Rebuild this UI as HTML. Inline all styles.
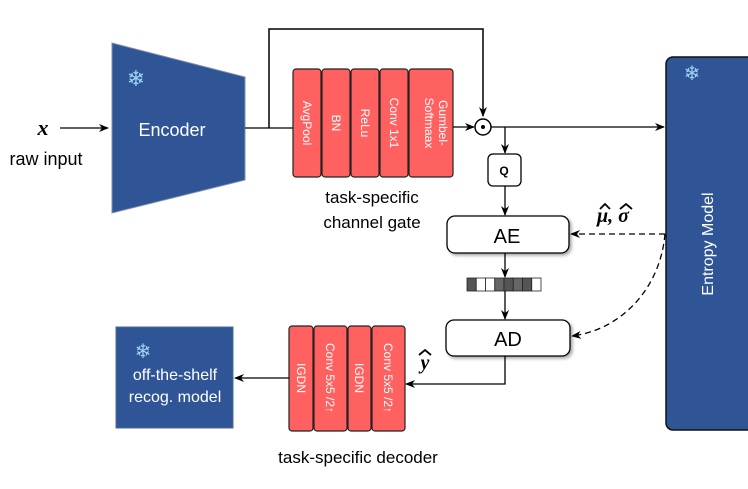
<!DOCTYPE html>
<html><head><style>
body{margin:0;background:#fff;}
svg text{font-family:"Liberation Sans","DejaVu Sans",sans-serif;}
</style></head><body>
<svg width="748" height="484" viewBox="0 0 748 484" xmlns="http://www.w3.org/2000/svg">
<defs>
<marker id="ah" markerWidth="10" markerHeight="8" refX="9" refY="4" orient="auto" markerUnits="userSpaceOnUse"><path d="M0,0 L10,4 L0,8 L3,4 z" fill="#000"/></marker>
<filter id="sh" x="-10%" y="-10%" width="130%" height="140%"><feDropShadow dx="2" dy="2" stdDeviation="1.5" flood-color="#000" flood-opacity="0.35"/></filter>
</defs>
<!-- input -->
<text x="43" y="135" font-style="italic" font-weight="bold" font-size="22" text-anchor="middle" style="font-family:'Liberation Serif',serif">x</text>
<text x="46" y="165" font-size="18" text-anchor="middle">raw input</text>
<line x1="60" y1="128" x2="108" y2="128" stroke="#000" stroke-width="1.3" marker-end="url(#ah)"/>
<!-- encoder -->
<polygon points="112,43 245,77 245,180 112,213" fill="#2f5597" stroke="#7f8fa8" stroke-width="1"/>
<text x="136" y="86" font-size="22" fill="#9dd3f5" text-anchor="middle">❄</text>
<text x="172" y="136" font-size="18" fill="#fff" text-anchor="middle">Encoder</text>
<!-- lines -->
<polyline points="245,128 293,128" fill="none" stroke="#000" stroke-width="1.3"/>
<polyline points="269,128 269,29 483,29 483,116" fill="none" stroke="#000" stroke-width="1.5" marker-end="url(#ah)"/>
<!-- gate -->
<g stroke="#222" stroke-width="1.2" fill="#ff6060">
<rect x="293" y="69" width="28" height="108" rx="3"/>
<rect x="322" y="69" width="28" height="108" rx="3"/>
<rect x="351" y="69" width="28" height="108" rx="3"/>
<rect x="380" y="69" width="28" height="108" rx="3"/>
<rect x="409" y="69" width="44" height="108" rx="3"/>
</g>
<g fill="#fff" font-size="12">
<text transform="translate(303,123) rotate(90)" text-anchor="middle">AvgPool</text>
<text transform="translate(332,123) rotate(90)" text-anchor="middle">BN</text>
<text transform="translate(361,123) rotate(90)" text-anchor="middle">ReLu</text>
<text transform="translate(390,123) rotate(90)" text-anchor="middle">Conv 1x1</text>
<text transform="translate(439,123) rotate(90)" text-anchor="middle">Gumbel-</text>
<text transform="translate(425,123) rotate(90)" text-anchor="middle">Softmaax</text>
</g>
<text x="372" y="203" font-size="17" text-anchor="middle">task-specific</text>
<text x="372" y="228" font-size="17" text-anchor="middle">channel gate</text>
<line x1="453" y1="127" x2="474" y2="127" stroke="#000" stroke-width="1.3" marker-end="url(#ah)"/>
<circle cx="483" cy="127" r="8" fill="#fff" stroke="#000" stroke-width="1.5"/>
<circle cx="483" cy="127" r="2" fill="#000"/>
<line x1="491" y1="127" x2="664" y2="127" stroke="#000" stroke-width="1.3" marker-end="url(#ah)"/>
<line x1="505" y1="127" x2="505" y2="153" stroke="#000" stroke-width="1.3" marker-end="url(#ah)"/>
<rect x="488" y="154" width="33" height="32" rx="5" fill="#fff" stroke="#000" stroke-width="1.3"/>
<text x="504" y="175" font-size="12" font-weight="bold" text-anchor="middle">Q</text>
<line x1="505" y1="186" x2="505" y2="215" stroke="#000" stroke-width="1.3" marker-end="url(#ah)"/>
<rect x="447" y="216" width="122" height="37" rx="8" fill="#fff" stroke="#000" stroke-width="1.3" filter="url(#sh)"/>
<text x="507" y="243" font-size="20" text-anchor="middle">AE</text>
<line x1="505" y1="253" x2="505" y2="277" stroke="#000" stroke-width="1.3" marker-end="url(#ah)"/>
<g stroke="#222" stroke-width="0.8">
<rect x="467" y="278" width="9.25" height="13" fill="#555"/>
<rect x="476.25" y="278" width="9.25" height="13" fill="#fff"/>
<rect x="485.5" y="278" width="9.25" height="13" fill="#fff"/>
<rect x="494.75" y="278" width="9.25" height="13" fill="#666"/>
<rect x="504" y="278" width="9.25" height="13" fill="#555"/>
<rect x="513.25" y="278" width="9.25" height="13" fill="#666"/>
<rect x="522.5" y="278" width="9.25" height="13" fill="#555"/>
<rect x="531.75" y="278" width="9.25" height="13" fill="#fff"/>
</g>
<line x1="505" y1="291" x2="505" y2="319" stroke="#000" stroke-width="1.3" marker-end="url(#ah)"/>
<rect x="446" y="320" width="124" height="36" rx="8" fill="#fff" stroke="#000" stroke-width="1.3" filter="url(#sh)"/>
<text x="508" y="346" font-size="20" text-anchor="middle">AD</text>
<polyline points="505,356 505,384 406,384" fill="none" stroke="#000" stroke-width="1.3" marker-end="url(#ah)"/>
<text x="425" y="369" font-size="20" font-style="italic" font-weight="bold" text-anchor="middle" style="font-family:'Liberation Serif',serif">y</text>
<path d="M419,355 L425,350 L431,355" fill="none" stroke="#000" stroke-width="1.8"/>
<!-- decoder -->
<g stroke="#222" stroke-width="1.2" fill="#ff6060">
<rect x="289" y="326" width="24" height="105" rx="3"/>
<rect x="314" y="326" width="33" height="105" rx="3"/>
<rect x="348" y="326" width="23" height="105" rx="3"/>
<rect x="372" y="326" width="33" height="105" rx="3"/>
</g>
<g fill="#fff" font-size="12">
<text transform="translate(297,378) rotate(90)" text-anchor="middle">IGDN</text>
<text transform="translate(326,378) rotate(90)" text-anchor="middle">Conv 5x5 /2↑</text>
<text transform="translate(355,378) rotate(90)" text-anchor="middle">IGDN</text>
<text transform="translate(384,378) rotate(90)" text-anchor="middle">Conv 5x5 /2↑</text>
</g>
<line x1="289" y1="378" x2="235" y2="378" stroke="#000" stroke-width="1.3" marker-end="url(#ah)"/>
<text x="358" y="463" font-size="17" text-anchor="middle">task-specific decoder</text>
<rect x="116" y="327" width="117" height="101" fill="#2f5597" stroke="#4a6a9a"/>
<text x="143" y="358" font-size="20" fill="#9dd3f5" text-anchor="middle">❄</text>
<text x="175" y="380" font-size="16" fill="#fff" text-anchor="middle">off-the-shelf</text>
<text x="175" y="402" font-size="16" fill="#fff" text-anchor="middle">recog. model</text>
<!-- entropy -->
<rect x="666" y="57" width="95" height="373" rx="7" fill="#2f5597" stroke="#111" stroke-width="1.5"/>
<text x="692" y="80" font-size="20" fill="#9dd3f5" text-anchor="middle">❄</text>
<text transform="translate(713,244) rotate(-90)" font-size="16" fill="#fff" text-anchor="middle">Entropy Model</text>
<line x1="665" y1="234" x2="571" y2="234" stroke="#000" stroke-width="1.3" stroke-dasharray="6,4" marker-end="url(#ah)"/>
<path d="M665,234 C660,290 620,330 572,336" fill="none" stroke="#000" stroke-width="1.3" stroke-dasharray="6,4" marker-end="url(#ah)"/>
<text x="597" y="222" font-size="20" font-style="italic" font-weight="bold" style="font-family:'Liberation Serif',serif">μ, σ</text>
<path d="M600,209 L605,204 L610,209" fill="none" stroke="#000" stroke-width="1.8"/>
<path d="M620,209 L626,204 L632,209" fill="none" stroke="#000" stroke-width="1.8"/>
</svg>
</body></html>
